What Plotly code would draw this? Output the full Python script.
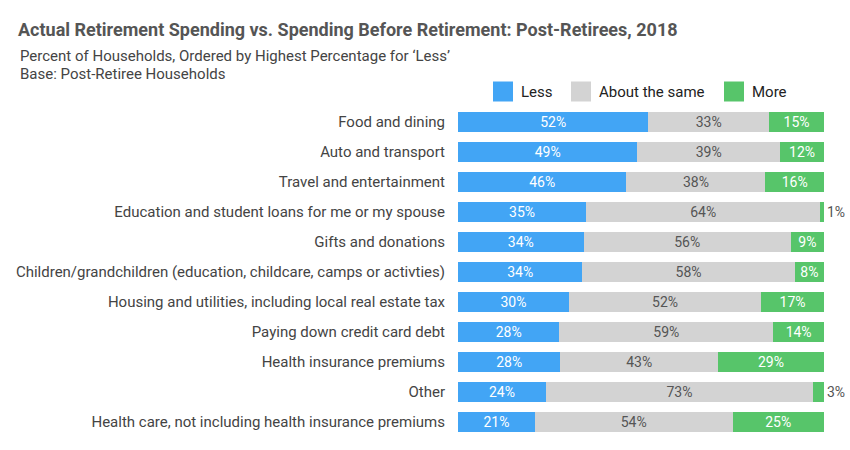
import plotly.graph_objects as go

categories = [
    "Food and dining",
    "Auto and transport",
    "Travel and entertainment",
    "Education and student loans for me or my spouse",
    "Gifts and donations",
    "Children/grandchildren (education, childcare, camps or activties)",
    "Housing and utilities, including local real estate tax",
    "Paying down credit card debt",
    "Health insurance premiums",
    "Other",
    "Health care, not including health insurance premiums",
]
less = [52, 49, 46, 35, 34, 34, 30, 28, 28, 24, 21]
same = [33, 39, 38, 64, 56, 58, 52, 59, 43, 73, 54]
more = [15, 12, 16, 1, 9, 8, 17, 14, 29, 3, 25]
series_names = ["Less", "About the same", "More"]

BLUE = "#42a5f5"
GRAY = "#d3d3d3"
GREEN = "#57c56a"
COLORS = [BLUE, GRAY, GREEN]
FONT = "Roboto"
TXT = 14

# plot area in pixels
L, T, PW, PH = 458, 107, 366, 330


def px_x(px):
    return (px - L) / PW


def px_y(py):
    return 1 - (py - T) / PH


def pct(v):
    return [f"{x}%" for x in v]


fig = go.Figure()

fig.add_trace(go.Bar(
    name=series_names[0], y=categories, x=less, orientation="h",
    marker=dict(color=BLUE, line=dict(width=0)),
    text=pct(less), textposition="inside", insidetextanchor="middle",
    textfont=dict(color="white", size=TXT, family=FONT),
    cliponaxis=False, hoverinfo="skip",
))
fig.add_trace(go.Bar(
    name=series_names[1], y=categories, x=same, orientation="h",
    marker=dict(color=GRAY, line=dict(width=0)),
    text=pct(same), textposition="inside", insidetextanchor="middle",
    textfont=dict(color="#555555", size=TXT, family=FONT),
    cliponaxis=False, hoverinfo="skip",
))
more_pos = ["outside" if v < 5 else "inside" for v in more]
fig.add_trace(go.Bar(
    name=series_names[2], y=categories, x=more, orientation="h",
    marker=dict(color=GREEN, line=dict(width=0)),
    text=pct(more), textposition=more_pos, insidetextanchor="middle",
    insidetextfont=dict(color="white", size=TXT, family=FONT),
    outsidetextfont=dict(color="#555555", size=TXT, family=FONT),
    cliponaxis=False, hoverinfo="skip",
))

# custom legend (larger swatches than the native legend allows)
legend_swatch_px = [493, 571, 724]
shapes, annotations = [], []
for name, col, sx in zip(series_names, COLORS, legend_swatch_px):
    shapes.append(dict(
        type="rect", xref="paper", yref="paper",
        x0=px_x(sx), x1=px_x(sx + 20), y0=px_y(101.5), y1=px_y(81.5),
        fillcolor=col, line=dict(width=0), layer="above",
    ))
    annotations.append(dict(
        text=name, xref="paper", yref="paper",
        x=px_x(sx + 26), y=px_y(91.5), xanchor="left", yanchor="middle",
        showarrow=False, font=dict(size=15, color="#222222", family=FONT),
    ))

subtitle_lines = [
    "Percent of Households, Ordered by Highest Percentage for \u2018Less\u2019",
    "Base: Post-Retiree Households",
]
for line, ly in zip(subtitle_lines, [56, 74]):
    annotations.append(dict(
        text=line, xref="paper", yref="paper", x=px_x(18), y=px_y(ly),
        xanchor="left", yanchor="middle", align="left", showarrow=False,
        font=dict(size=15, color="#444444", family=FONT),
    ))

fig.update_layout(
    width=850, height=450,
    barmode="stack", barnorm="percent", bargap=1/3,
    uniformtext=dict(minsize=TXT, mode="show"),
    paper_bgcolor="white", plot_bgcolor="white",
    margin=dict(l=L, r=850 - L - PW, t=T, b=450 - T - PH, autoexpand=False),
    font=dict(family=FONT, size=15, color="#444444"),
    title=dict(
        text="<b>Actual Retirement Spending vs. Spending Before Retirement: Post-Retirees, 2018</b>",
        x=18/850, xanchor="left", y=1-30/450, yanchor="middle",
        font=dict(size=18, color="#555555", family=FONT),
    ),
    showlegend=False,
    xaxis=dict(range=[0, 100.001], visible=False, fixedrange=True),
    yaxis=dict(
        autorange="reversed", showgrid=False, zeroline=False, showline=False,
        ticks="", ticklabelstandoff=12, tickfont=dict(size=15, color="#444444"),
        fixedrange=True,
    ),
    shapes=shapes,
    annotations=annotations,
)

fig.write_html(
    "out.html",
    config={"displayModeBar": False, "staticPlot": True},
    post_script="document.body.style.margin='0';document.body.style.padding='0';",
)
